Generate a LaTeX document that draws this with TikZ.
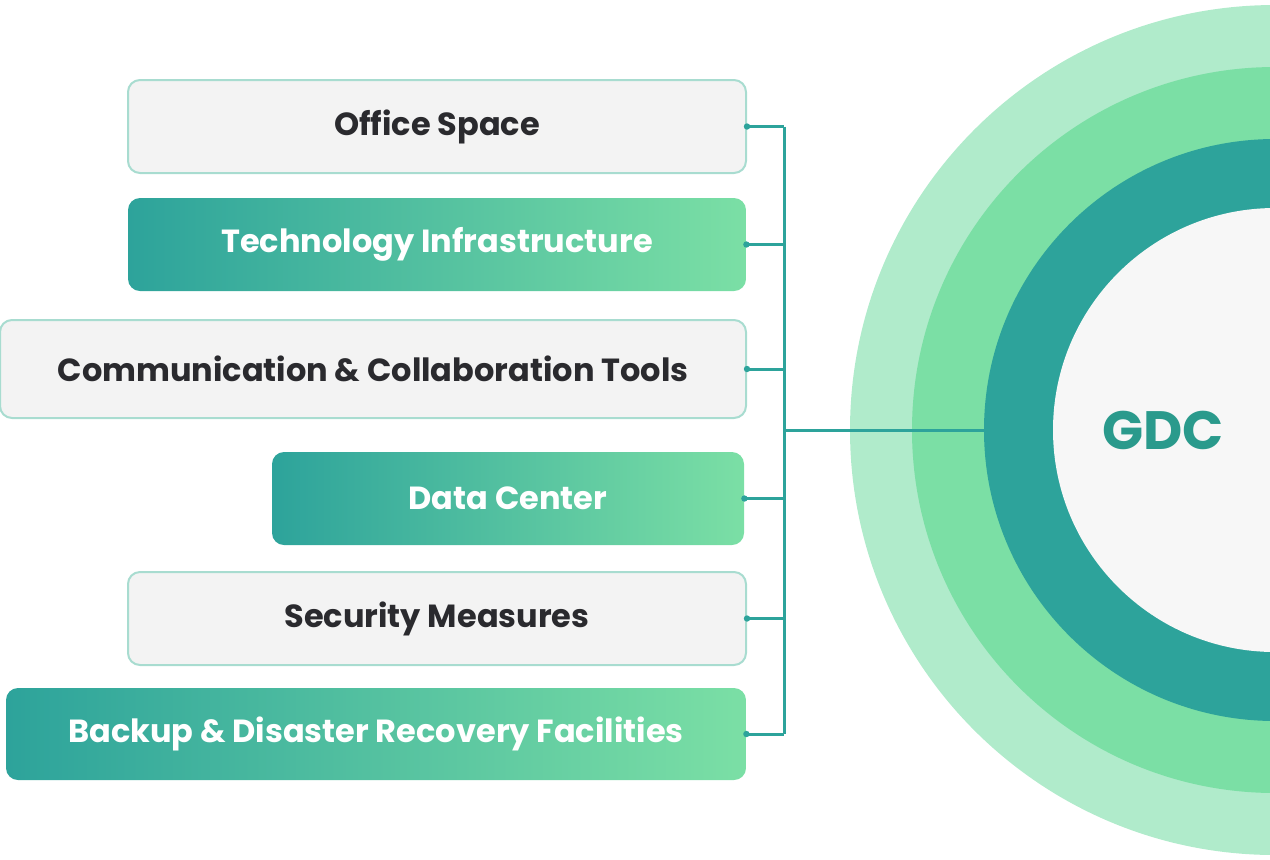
\documentclass[tikz,border=0pt]{standalone}
\usepackage{fontspec}
\setmainfont{Poppins}
\definecolor{darkteal}{HTML}{2DA39B}
\definecolor{midgreen}{HTML}{7BDFA5}
\definecolor{palegreen}{HTML}{B0EBCB}
\definecolor{boxgray}{HTML}{F3F3F3}
\definecolor{boxline}{HTML}{A8DCD0}
\definecolor{textdark}{HTML}{2A2A2E}
\definecolor{coregray}{HTML}{F7F7F7}
\definecolor{gdcteal}{HTML}{2A9A8C}
\begin{document}
\begin{tikzpicture}[x=0.5pt,y=-0.5pt]
    \tikzstyle{every node}=[rectangle, inner sep=0pt, font=\bfseries\fontsize{16}{19}\selectfont]
    \tikzstyle{plain}=[rounded corners=6pt, draw=boxline, line width=1pt, fill=boxgray, text=textdark, minimum height=46.5pt]
    \tikzstyle{grad}=[rounded corners=6pt, left color=darkteal, right color=midgreen, text=white, minimum height=46.5pt]
    \tikzstyle{ring}=[circle, draw=none]
    \tikzstyle{link}=[darkteal, line width=1.5pt]

    \useasboundingbox (0,0) rectangle (1270,859);
    \clip (0,0) rectangle (1270,859);

    % rings on the right
    \node[ring, fill=palegreen, minimum size=425pt] (ring1) at (1275,430) {};
    \node[ring, fill=midgreen, minimum size=363pt] (ring2) at (1275,430) {};
    \node[ring, fill=darkteal, minimum size=291pt] (ring3) at (1275,430) {};
    \node[ring, fill=coregray, minimum size=222pt] (core) at (1275,430) {};
    \node[text=gdcteal, font=\bfseries\fontsize{27}{32}\selectfont] (gdc) at (1163,430) {GDC};

    % boxes
    \node[plain, minimum width=309pt] (office) at (437,126.5) {Office Space};
    \node[grad, minimum width=309pt] (tech) at (437,244.5) {Technology Infrastructure};
    \node[plain, minimum width=373pt, minimum height=49pt] (comm) at (373,369) {Communication \& Collaboration Tools};
    \node[grad, minimum width=236pt] (data) at (508,498.5) {Data Center};
    \node[plain, minimum width=309pt] (security) at (437,618.5) {Security Measures};
    \node[grad, minimum width=370pt, minimum height=46pt] (backup) at (376,734) {Backup \& Disaster Recovery Facilities};

    \coordinate (hub) at (784,430);

    \draw[link] (office.east -| hub) -- (backup.east -| hub);
    \foreach \b in {office, tech, comm, data, security, backup} {
        \draw[link] (\b.east) -- (\b.east -| hub);
        \fill[darkteal] (\b.east) circle[radius=1.6pt];
    }
    \draw[link] (hub) -- (ring3.west);
\end{tikzpicture}
\end{document}
